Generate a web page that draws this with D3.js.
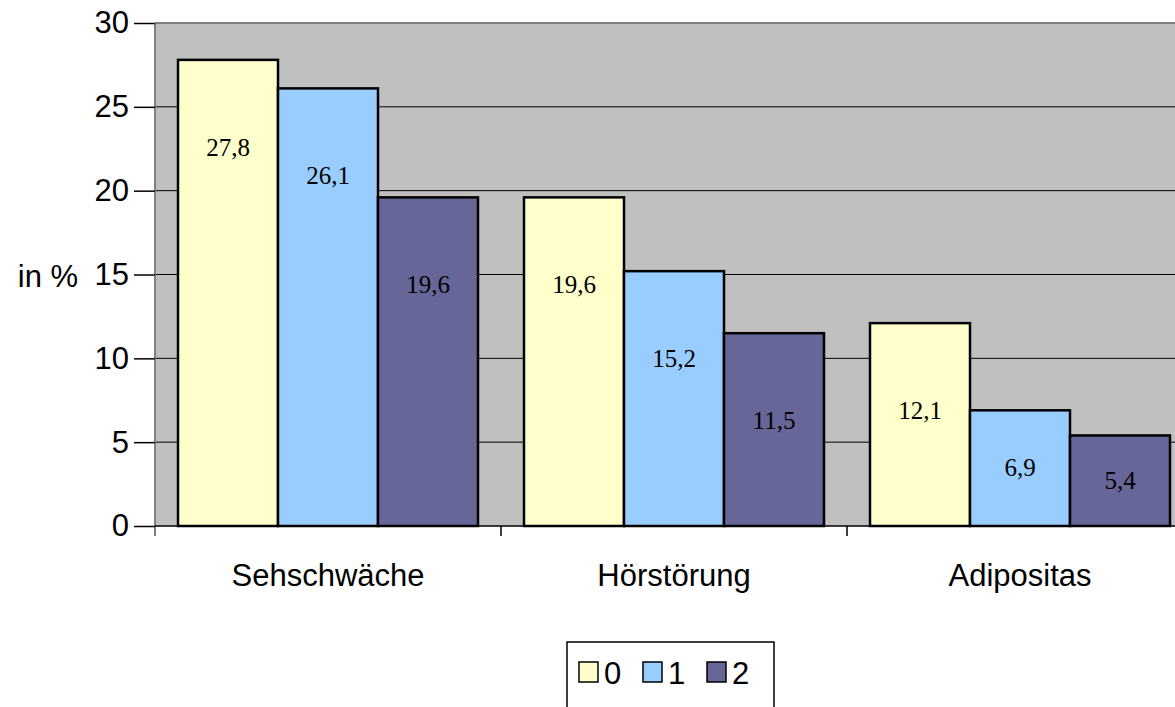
<!DOCTYPE html>
<html>
<head>
<meta charset="utf-8">
<script src="https://cdn.jsdelivr.net/npm/d3@7.9.0/dist/d3.min.js"></script>
<style>
  body { margin: 0; background: #fff; overflow: hidden; }
  svg { display: block; font-family: Arial, "Liberation Sans", sans-serif; }
</style>
</head>
<body>
<svg id="chart" width="1175" height="707"></svg>
<script>
// --- data ---
const categories = ["Sehschwäche", "Hörstörung", "Adipositas"];
const seriesNames = ["0", "1", "2"];
const series0 = [27.8, 19.6, 12.1];
const series1 = [26.1, 15.2, 6.9];
const series2 = [19.6, 11.5, 5.4];
const yTicks = [0, 5, 10, 15, 20, 25, 30];

const seriesValues = [series0, series1, series2];
const colors = ["#FFFFCC", "#99CCFF", "#666699"];

const svg = d3.select("#chart");
const m = { left: 155, top: 23, bottom: 526 };
const plotRight = 1193; // plot runs past the window edge, like the original

const x = d3.scaleBand().domain(categories).range([m.left, plotRight]).paddingInner(0).paddingOuter(0);
const xs = d3.scaleBand().domain(seriesNames).range([0, x.bandwidth()]).paddingInner(0).paddingOuter(0.23);
const y = d3.scaleLinear().domain([0, 30]).range([m.bottom, m.top]);

// plot background
svg.append("rect")
  .attr("x", m.left).attr("y", m.top)
  .attr("width", plotRight - m.left).attr("height", m.bottom - m.top)
  .attr("fill", "#C0C0C0");

// gridlines
svg.append("g").selectAll("line")
  .data(yTicks.filter(d => d > 0))
  .join("line")
  .attr("x1", m.left).attr("x2", plotRight)
  .attr("y1", d => y(d)).attr("y2", d => y(d))
  .attr("stroke", d => d === 30 ? "#808080" : "#000")
  .attr("stroke-width", d => d === 30 ? 2 : 1);

// bars
const groups = svg.append("g").selectAll("g")
  .data(categories)
  .join("g")
  .attr("transform", d => `translate(${x(d)},0)`);

groups.selectAll("rect")
  .data((c, ci) => seriesNames.map((s, si) => ({ s, v: seriesValues[si][ci], si })))
  .join("rect")
  .attr("x", d => xs(d.s))
  .attr("y", d => y(d.v))
  .attr("width", xs.bandwidth())
  .attr("height", d => y(0) - y(d.v))
  .attr("fill", d => colors[d.si])
  .attr("stroke", "#000")
  .attr("stroke-width", 2.5);

// value labels
groups.selectAll("text")
  .data((c, ci) => seriesNames.map((s, si) => ({ s, v: seriesValues[si][ci], si })))
  .join("text")
  .attr("x", d => xs(d.s) + xs.bandwidth() / 2)
  .attr("y", d => y(d.v) + Math.min(88, (y(0) - y(d.v)) / 2) + 8)
  .attr("text-anchor", "middle")
  .attr("font-family", "'Liberation Serif', 'Times New Roman', serif")
  .attr("font-size", 25)
  .attr("fill", "#000")
  .text(d => d3.format(".1f")(d.v).replace(".", ","));

// y axis
const yAxis = svg.append("g")
  .attr("transform", `translate(${m.left},0)`)
  .call(d3.axisLeft(y).tickValues(yTicks).tickSize(21).tickPadding(5));
yAxis.select(".domain").attr("stroke", "#808080").attr("stroke-width", 2)
  .attr("d", `M0,${m.top}V${m.bottom + 10}`);
yAxis.selectAll(".tick line").attr("stroke", "#000").attr("stroke-width", 1.5);
yAxis.selectAll(".tick text").attr("font-size", 31).attr("fill", "#000")
  .attr("font-family", "Arial, 'Liberation Sans', sans-serif");

// x axis
const xAxis = svg.append("g")
  .attr("transform", `translate(0,${m.bottom})`)
  .call(d3.axisBottom(x).tickSize(0).tickPadding(38));
xAxis.select(".domain").attr("stroke", "#000").attr("stroke-width", 1.5)
  .attr("d", `M${m.left},0H${plotRight}`);
xAxis.selectAll(".tick text").attr("font-size", 31).attr("fill", "#000")
  .attr("font-family", "Arial, 'Liberation Sans', sans-serif");
svg.append("g").selectAll("line")
  .data(categories.slice(1))
  .join("line")
  .attr("x1", d => x(d)).attr("x2", d => x(d))
  .attr("y1", m.bottom).attr("y2", m.bottom + 10)
  .attr("stroke", "#000").attr("stroke-width", 1.5);

// y title
svg.append("text")
  .attr("x", 48).attr("y", 287)
  .attr("text-anchor", "middle")
  .attr("font-size", 31)
  .text("in %");

// legend
const lg = svg.append("g").attr("transform", "translate(567,642)");
lg.append("rect").attr("width", 207).attr("height", 80)
  .attr("fill", "#fff").attr("stroke", "#000").attr("stroke-width", 1.5);
const items = lg.selectAll("g.item")
  .data(seriesNames)
  .join("g")
  .attr("class", "item")
  .attr("transform", (d, i) => `translate(${12 + i * 64},20)`);
items.append("rect")
  .attr("width", 19).attr("height", 20)
  .attr("fill", (d, i) => colors[i])
  .attr("stroke", "#000").attr("stroke-width", 1.5);
items.append("text")
  .attr("x", 25).attr("y", 22)
  .attr("font-size", 31)
  .text(d => d);
</script>
</body>
</html>
